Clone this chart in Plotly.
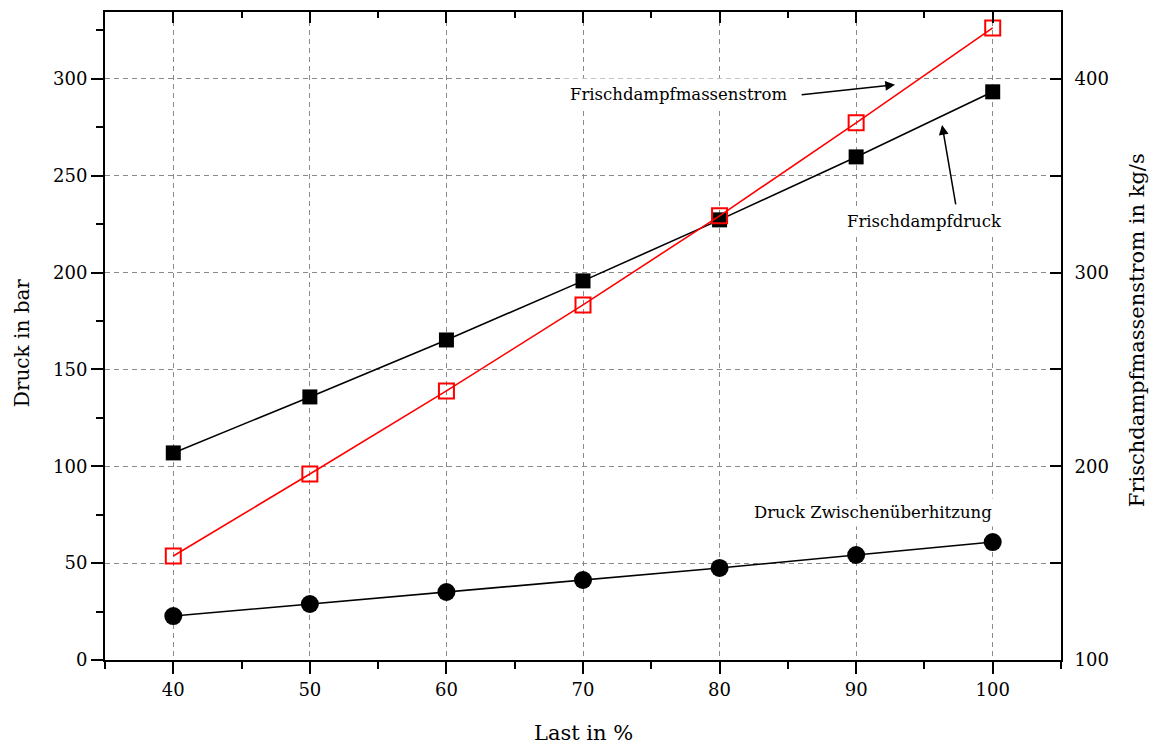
import plotly.graph_objects as go

last = [40, 50, 60, 70, 80, 90, 100]
frischdampfdruck = [106.9, 135.8, 165.2, 195.7, 227.2, 259.7, 293.3]
massenstrom = [153.7, 196.0, 238.9, 283.3, 329.3, 377.3, 426.3]
druck_zue = [22.7, 28.9, 35.1, 41.3, 47.5, 54.2, 60.9]

FONT = "DejaVu Serif"

fig = go.Figure()
fig.add_trace(go.Scatter(x=last, y=frischdampfdruck, mode="lines+markers",
                         line=dict(color="black", width=1.6),
                         marker=dict(symbol="square", size=15, color="black"),
                         showlegend=False))
fig.add_trace(go.Scatter(x=last, y=druck_zue, mode="lines+markers",
                         line=dict(color="black", width=1.6),
                         marker=dict(symbol="circle", size=18, color="black"),
                         showlegend=False))
fig.add_trace(go.Scatter(x=last, y=massenstrom, mode="lines+markers", yaxis="y2",
                         line=dict(color="red", width=1.6),
                         marker=dict(symbol="square-open", size=15, color="red",
                                     line=dict(width=2, color="red")),
                         showlegend=False))
# dummy trace for top axis
fig.add_trace(go.Scatter(x=[None], y=[None], xaxis="x2", showlegend=False, hoverinfo="skip"))

grid = dict(showgrid=True, gridcolor="#8a8a8a", gridwidth=1, griddash="5px,4px")
fig.update_layout(
    width=1156, height=747,
    margin=dict(l=105, r=95, t=12, b=87),
    plot_bgcolor="white", paper_bgcolor="white",
    font=dict(family=FONT, size=16.5, color="black"),
    xaxis=dict(range=[35, 105], dtick=10, tick0=0, ticks="outside", ticklen=12, tickwidth=2,
               tickcolor="black", showline=True, linecolor="black", linewidth=2,
               minor=dict(dtick=5, ticks="outside", ticklen=7, tickwidth=2, tickcolor="black", showgrid=False),
               zeroline=False, tickfont=dict(size=18), **grid),
    xaxis2=dict(range=[35, 105], overlaying="x", side="top", dtick=10, tick0=0, ticks="inside",
                ticklen=11, tickwidth=2, tickcolor="black", showline=True, linecolor="black",
                linewidth=2, showticklabels=False, showgrid=False, zeroline=False,
                minor=dict(dtick=5, ticks="inside", ticklen=6, tickwidth=2, tickcolor="black")),
    yaxis=dict(range=[0, 334.5], dtick=50, ticks="outside", ticklen=12, tickwidth=2,
               tickcolor="black", showline=True, linecolor="black", linewidth=2,
               minor=dict(dtick=25, ticks="outside", ticklen=7, tickwidth=2, tickcolor="black", showgrid=False),
               zeroline=False, tickfont=dict(size=18), **grid),
    yaxis2=dict(range=[100, 434.5], overlaying="y", side="right", dtick=100, ticks="inside",
                ticklen=11, tickwidth=2, tickcolor="black", showline=True, linecolor="black",
                linewidth=2, showgrid=False, zeroline=False, tickfont=dict(size=18),
                ticklabelstandoff=8,
                minor=dict(dtick=50, ticks="inside", ticklen=11, tickwidth=2, tickcolor="black")),
)

annos = [
    dict(text="Druck in bar", xref="paper", yref="paper", x=-0.0868, y=0.489, textangle=-90,
         xanchor="center", yanchor="middle", showarrow=False, font=dict(size=20)),
    dict(text="Frischdampfmassenstrom in kg/s", xref="paper", yref="paper", x=1.0795, y=0.509,
         xanchor="center", yanchor="middle", textangle=-90, showarrow=False, font=dict(size=21)),
    dict(text="Last in %", xref="paper", yref="paper", x=0.5, y=-0.113, xanchor="center",
         yanchor="middle", showarrow=False, font=dict(size=21)),
    dict(text="Frischdampfmassenstrom", x=76.96, y=291.7, xref="x", yref="y", showarrow=False,
         bgcolor="white", borderpad=6),
    dict(text="Frischdampfdruck", x=94.97, y=226.2, xref="x", yref="y", showarrow=False,
         bgcolor="white", borderpad=4),
    dict(text="Druck Zwischenüberhitzung", x=91.23, y=76.4, xref="x", yref="y", showarrow=False,
         bgcolor="white", borderpad=4),
    dict(text="", x=92.85, y=296.9, ax=85.9, ay=291.7, xref="x", yref="y", axref="x", ayref="y",
         showarrow=True, arrowhead=2, arrowsize=1.3, arrowwidth=1.5, arrowcolor="black"),
    dict(text="", x=96.29, y=276.2, ax=97.31, ay=234.4, xref="x", yref="y", axref="x", ayref="y",
         showarrow=True, arrowhead=2, arrowsize=1.3, arrowwidth=1.5, arrowcolor="black"),
]
fig.update_layout(annotations=annos)

fig.write_html("out.html")
